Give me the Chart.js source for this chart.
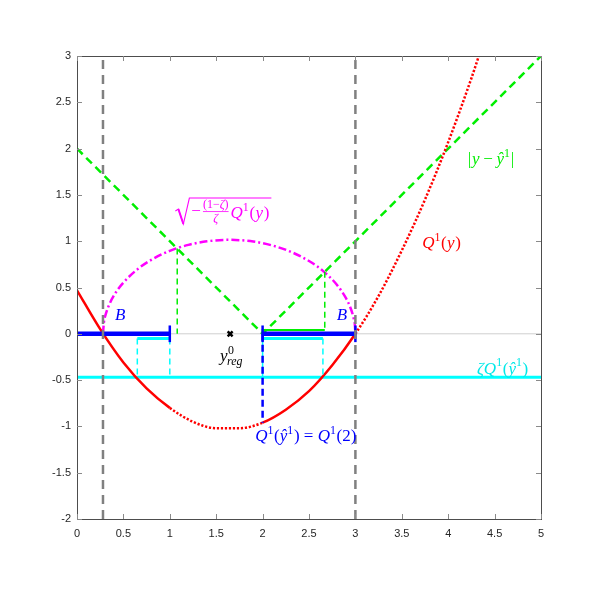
<!DOCTYPE html>
<html><head><meta charset="utf-8">
<script src="https://cdn.jsdelivr.net/npm/chart.js@4/dist/chart.umd.min.js"></script>
<style>html,body{margin:0;padding:0;background:#fff}canvas{display:block}</style>
</head><body>
<canvas id="c" width="598" height="598"></canvas>
<script>
// ---- data ----
const xTicks = [0, 0.5, 1, 1.5, 2, 2.5, 3, 3.5, 4, 4.5, 5];
const yTicks = [-2, -1.5, -1, -0.5, 0, 0.5, 1, 1.5, 2, 2.5, 3];

// Q^1(y) (red)
const qX = [0, 0.25, 0.5, 0.75, 1, 1.25, 1.5, 1.75, 2, 2.25, 2.5, 2.75, 3, 3.25, 3.5, 3.75, 4, 4.25, 4.33];
const qY = [0.47, 0.05, -0.31, -0.59, -0.80, -0.95, -1.02, -1.02, -0.96, -0.82, -0.62, -0.34, 0, 0.41, 0.90, 1.45, 2.07, 2.76, 3.0];
const qSolidRanges = [[0, 1], [2, 3]];

// sqrt(-(1-zeta)/zeta Q^1(y)) (magenta)
const mX = [0.28, 0.29, 0.31, 0.35, 0.42, 0.5, 0.65, 0.8, 1.0, 1.2, 1.4, 1.64, 1.9, 2.1, 2.3, 2.5, 2.65, 2.8, 2.9, 2.95, 2.98, 2.995, 3.0];
const mY = [0, 0.123, 0.212, 0.321, 0.449, 0.553, 0.696, 0.798, 0.896, 0.960, 0.999, 1.015, 0.996, 0.955, 0.887, 0.786, 0.680, 0.530, 0.382, 0.273, 0.173, 0.087, 0];

// |y - yhat| (green)
const absX = [0, 2, 5];
const absY = [2, 0, 3];

const yHat = 2;
const qAtYHat = -0.96;
const zetaQ = -0.47;
const bSets = [[0, 1], [2, 3]];
const bEndX = [1, 2, 3];
const bEndHalf = 0.09;
const cyanSets = [[0.65, 1.0], [2.0, 2.65]];
const cyanTopY = -0.05;
const greenDropX = [1.08, 2.67];
const greenDropTop = [0.92, 0.67];
const greenBoxY = 0.04;
const zerosX = [0.28, 3.0];
const yRegX = 1.65;

// ---- build datasets ----
const pts = (xs, ys) => xs.map((x, i) => ({x, y: ys[i]}));
const seg = (x0, y0, x1, y1) => [{x: x0, y: y0}, {x: x1, y: y1}];
const base = {pointRadius: 0, pointHoverRadius: 0, fill: false, tension: 0, borderCapStyle: 'butt'};
const ds = [];
let ord = 100;
function add(o) { ds.push(Object.assign({}, base, o, {order: ord--})); }

add({data: seg(0, 0, 5, 0), borderColor: '#cfcfcf', borderWidth: 1});
add({data: seg(0, zetaQ, 5, zetaQ), borderColor: '#00ffff', borderWidth: 3});
add({data: pts(absX, absY), borderColor: '#00ee00', borderWidth: 2.5, borderDash: [8, 5]});
add({data: pts(mX, mY), borderColor: '#ff00ff', borderWidth: 2.5, borderDash: [8, 3, 2, 3], cubicInterpolationMode: 'monotone'});
const inSolid = (a, b) => qSolidRanges.some(r => a >= r[0] - 1e-9 && b <= r[1] + 1e-9);
add({data: pts(qX, qY), borderColor: '#ff0000', borderWidth: 2.5, cubicInterpolationMode: 'monotone',
  segment: {borderDash: c => inSolid(c.p0.parsed.x, c.p1.parsed.x) ? [] : [2.2, 1.8]}});
// cyan brackets
cyanSets.forEach(([a, b], k) => {
  add({data: seg(a, cyanTopY, b, cyanTopY), borderColor: '#00ffff', borderWidth: 3});
  add({data: seg(a, cyanTopY, a, zetaQ), borderColor: '#00ffff', borderWidth: 1.5, borderDash: k === 1 ? [] : [6, 4]});
  add({data: seg(b, cyanTopY, b, zetaQ), borderColor: '#00ffff', borderWidth: 1.5, borderDash: [6, 4]});
});
// green drops + box
add({data: seg(greenDropX[0], greenDropTop[0], greenDropX[0], 0), borderColor: '#00ee00', borderWidth: 1.5, borderDash: [6, 4]});
add({data: seg(greenDropX[1], greenDropTop[1], greenDropX[1], greenBoxY), borderColor: '#00ee00', borderWidth: 1.5, borderDash: [6, 4]});
add({data: [{x: yHat, y: 0}, {x: yHat, y: greenBoxY}, {x: greenDropX[1], y: greenBoxY}], borderColor: '#00ee00', borderWidth: 2});
// blue B
bSets.forEach(([a, b]) => add({data: seg(a, 0, b, 0), borderColor: '#0000ff', borderWidth: 4.5}));
bEndX.forEach(x => add({data: seg(x, -bEndHalf, x, bEndHalf), borderColor: '#0000ff', borderWidth: 2.5}));
add({data: seg(yHat, 0, yHat, qAtYHat), borderColor: '#0000ff', borderWidth: 2.5, borderDash: [7, 4]});
// gray zero markers
zerosX.forEach(x => add({data: seg(x, -2, x, 3), borderColor: '#808080', borderWidth: 2.5, borderDash: [9, 6]}));
// y_reg marker
add({data: [{x: yRegX, y: 0}], showLine: false, pointRadius: 3.5, pointStyle: 'crossRot', borderColor: '#000', borderWidth: 2.5, pointBorderColor: '#000', pointBorderWidth: 2.5});

// ---- text helpers ----
const SERIF = '"Liberation Serif", "DejaVu Serif", serif';
function runs(ctx, x, y, items, color, size) {
  let cx = x;
  ctx.fillStyle = color;
  ctx.textBaseline = 'alphabetic';
  ctx.textAlign = 'left';
  for (const it of items) {
    const s = size * (it.sc || 1);
    ctx.font = (it.i ? 'italic ' : '') + s + 'px ' + SERIF;
    ctx.fillText(it.t, cx, y + (it.dy || 0) * size);
    cx += ctx.measureText(it.t).width + (it.sp || 0) * size;
  }
  return cx;
}
const SUP = {sc: 0.7, dy: -0.42};
const sup1 = Object.assign({t: '1', sp: 0.04}, SUP);

const labels = [
  {x: 3.72, y: 0.93, color: '#ff0000', items: [{t: 'Q', i: 1}, sup1, {t: '(', sp: 0.02}, {t: 'y', i: 1, sp: 0.04}, {t: ')'}]},
  {x: 4.21, y: 1.83, color: '#00ee00', items: [{t: '|', sp: 0.05}, {t: 'y', i: 1, sp: 0.22}, {t: '−', sp: 0.22}, {t: 'ŷ', i: 1}, sup1, {t: '|'}]},
  {x: 4.31, y: -0.43, color: '#00e8e8', items: [{t: 'ζQ', i: 1}, sup1, {t: '('}, {t: 'ŷ', i: 1}, sup1, {t: ')'}]},
  {x: 1.92, y: -1.16, color: '#0000ff', items: [{t: 'Q', i: 1}, sup1, {t: '('}, {t: 'ŷ', i: 1}, sup1, {t: ')', sp: 0.25}, {t: '=', sp: 0.25}, {t: 'Q', i: 1}, sup1, {t: '(2)'}]},
  {x: 0.41, y: 0.15, color: '#0000ff', items: [{t: 'B', i: 1}]},
  {x: 2.80, y: 0.15, color: '#0000ff', items: [{t: 'B', i: 1}]}
];
const yRegLabel = {x: 1.54, y: -0.29};
const sqrtLabel = {x: 1.06, y: 1.25};

const overlay = {
  id: 'overlay',
  afterDatasetsDraw(chart) {
    const {ctx, chartArea: a, scales: {x: xs, y: ys}} = chart;
    ctx.save();
    // axes box
    ctx.strokeStyle = '#4d4d4d';
    ctx.lineWidth = 1;
    ctx.strokeRect(Math.round(a.left) + 0.5, Math.round(a.top) + 0.5, Math.round(a.right - a.left), Math.round(a.bottom - a.top));
    // inward ticks on all four sides
    ctx.strokeStyle = '#8a8a8a';
    ctx.beginPath();
    xTicks.forEach(v => {
      const p = Math.round(xs.getPixelForValue(v)) + 0.5;
      ctx.moveTo(p, a.bottom); ctx.lineTo(p, a.bottom - 5);
      ctx.moveTo(p, a.top); ctx.lineTo(p, a.top + 5);
    });
    yTicks.forEach(v => {
      const p = Math.round(ys.getPixelForValue(v)) + 0.5;
      ctx.moveTo(a.left, p); ctx.lineTo(a.left + 5, p);
      ctx.moveTo(a.right, p); ctx.lineTo(a.right - 5, p);
    });
    ctx.stroke();

    // labels
    labels.forEach(l => runs(ctx, xs.getPixelForValue(l.x), ys.getPixelForValue(l.y), l.items, l.color, 17));

    // y^0_reg
    {
      const px = xs.getPixelForValue(yRegLabel.x), py = ys.getPixelForValue(yRegLabel.y);
      const nx = runs(ctx, px, py, [{t: 'y', i: 1}], '#000', 17);
      runs(ctx, nx + 0.5, py - 7, [{t: '0', sc: 0.7}], '#000', 17);
      runs(ctx, nx - 0.5, py + 4, [{t: 'reg', sc: 0.7, i: 1}], '#000', 17);
    }

    // sqrt( -(1-zeta)/zeta Q^1(y) )
    {
      const px = xs.getPixelForValue(sqrtLabel.x), py = ys.getPixelForValue(sqrtLabel.y);
      const col = '#ff00ff';
      const top = py - 20;
      let cx = px + 16;
      cx = runs(ctx, cx, py - 2, [{t: '−'}], col, 17) + 2;
      const fs = 12;
      ctx.font = fs + 'px ' + SERIF;
      const numW = ctx.measureText('(1−').width;
      ctx.font = 'italic ' + fs + 'px ' + SERIF;
      const zW = ctx.measureText('ζ').width;
      ctx.font = fs + 'px ' + SERIF;
      const fw = numW + zW + ctx.measureText(')').width;
      runs(ctx, cx, py - 10, [{t: '(1−'}, {t: 'ζ', i: 1}, {t: ')'}], col, fs);
      runs(ctx, cx + fw / 2 - zW / 2, py + 4, [{t: 'ζ', i: 1}], col, fs);
      ctx.strokeStyle = col; ctx.lineWidth = 0.8;
      ctx.beginPath(); ctx.moveTo(cx, py - 6.5); ctx.lineTo(cx + fw, py - 6.5); ctx.stroke();
      cx += fw + 2;
      const end = runs(ctx, cx, py, [{t: 'Q', i: 1}, sup1, {t: '(', sp: 0.02}, {t: 'y', i: 1, sp: 0.04}, {t: ')'}], col, 17);
      ctx.lineWidth = 1.1;
      ctx.beginPath();
      ctx.moveTo(px, py - 7);
      ctx.lineTo(px + 3, py - 9);
      ctx.lineTo(px + 8, py + 6);
      ctx.lineTo(px + 14, top);
      ctx.lineTo(end + 2, top);
      ctx.stroke();
      ctx.lineWidth = 2;
      ctx.beginPath();
      ctx.moveTo(px + 3, py - 9);
      ctx.lineTo(px + 8, py + 6);
      ctx.stroke();
    }
    ctx.restore();
  }
};

const tickFont = {family: '"Liberation Sans", Arial, sans-serif', size: 11};
new Chart(document.getElementById('c'), {
  type: 'line',
  data: {datasets: ds},
  options: {
    responsive: false,
    animation: false,
    events: [],
    layout: {padding: {top: 56, right: 57, left: 0, bottom: 0}},
    plugins: {legend: {display: false}, tooltip: {enabled: false}},
    scales: {
      x: {
        type: 'linear', min: 0, max: 5,
        afterBuildTicks: s => { s.ticks = xTicks.map(v => ({value: v})); },
        afterFit: s => { s.height = 79; },
        grid: {display: false, drawTicks: false},
        border: {display: false},
        ticks: {font: tickFont, color: '#262626', padding: 8, maxRotation: 0, autoSkip: false,
          callback: v => String(v)}
      },
      y: {
        type: 'linear', min: -2, max: 3,
        afterBuildTicks: s => { s.ticks = yTicks.map(v => ({value: v})); },
        afterFit: s => { s.width = 77; },
        grid: {display: false, drawTicks: false},
        border: {display: false},
        ticks: {font: tickFont, color: '#262626', padding: 6, autoSkip: false,
          callback: v => String(v)}
      }
    }
  },
  plugins: [overlay]
});
</script>
</body></html>
